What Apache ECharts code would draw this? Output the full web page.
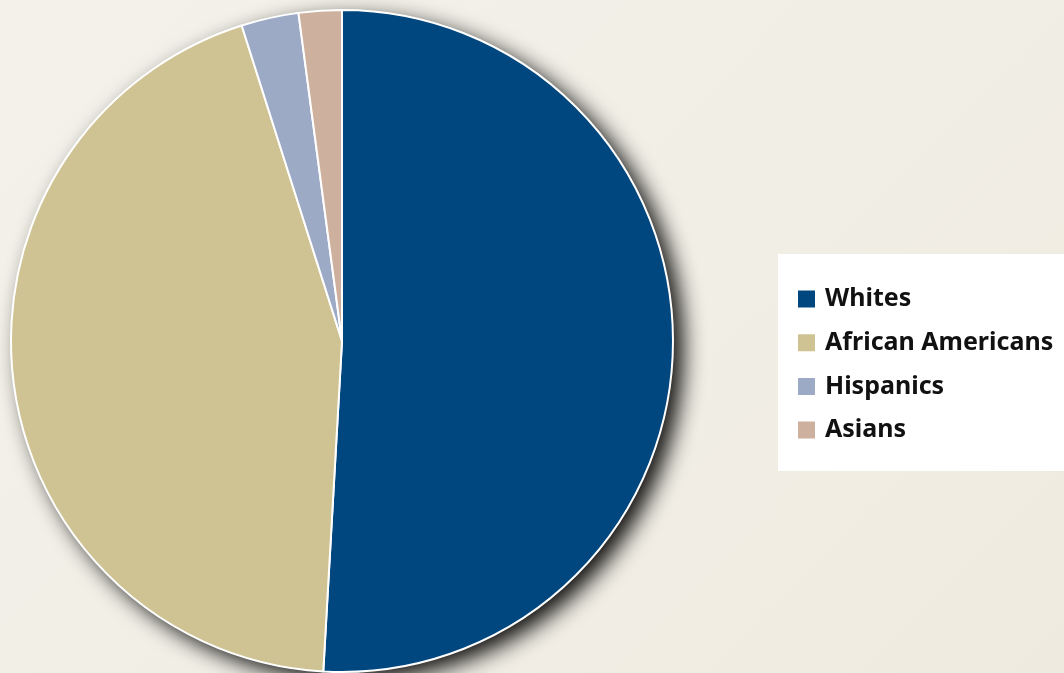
<!DOCTYPE html>
<html>
<head>
<meta charset="utf-8">
<script src="https://cdn.jsdelivr.net/npm/echarts@6/dist/echarts.min.js"></script>
<style>
html,body{margin:0;padding:0;width:1064px;height:673px;overflow:hidden;}
#c{width:1064px;height:673px;background:linear-gradient(135deg,#f3f1ea 0%,#f1eee5 60%,#eeeadf 100%);}
</style>
</head>
<body>
<div id="c"></div>
<script>
const categories = ['Whites', 'African Americans', 'Hispanics', 'Asians'];
const shares = [50.9, 44.2, 2.8, 2.1];
const colors = ['#00467f', '#cfc393', '#9daac6', '#cdb09e'];

const chart = echarts.init(document.getElementById('c'));
chart.setOption({
  animation: false,
  backgroundColor: 'transparent',
  graphic: [{
    type: 'rect',
    left: 778, top: 254, z: 0,
    shape: { width: 290, height: 217 },
    style: { fill: '#ffffff' }
  }],
  legend: {
    data: categories,
    orient: 'vertical',
    left: 791, top: 281.5,
    itemWidth: 19, itemHeight: 19, itemGap: 18.7,
    icon: 'rect',
    z: 5,
    textStyle: { fontFamily: 'Noto Sans', fontWeight: 'bold', fontSize: 25, color: '#111', padding: [0, 0, 0, 4] },
    selectedMode: false
  },
  series: [
    {
      type: 'pie', silent: true, z: 1,
      center: [342, 341], radius: 331,
      label: { show: false }, labelLine: { show: false },
      itemStyle: { color: '#ffffff', shadowBlur: 22, shadowOffsetX: 10, shadowOffsetY: 8, shadowColor: 'rgba(0,0,0,0.95)' },
      data: [{ value: 1, name: '' }]
    },
    {
      type: 'pie', z: 2,
      center: [342, 341], radius: 331,
      startAngle: 90, clockwise: true,
      label: { show: false }, labelLine: { show: false },
      itemStyle: { borderColor: '#ffffff', borderWidth: 2 },
      emphasis: { disabled: true },
      data: categories.map((n, i) => ({ name: n, value: shares[i], itemStyle: { color: colors[i] } }))
    }
  ]
});
</script>
</body>
</html>
